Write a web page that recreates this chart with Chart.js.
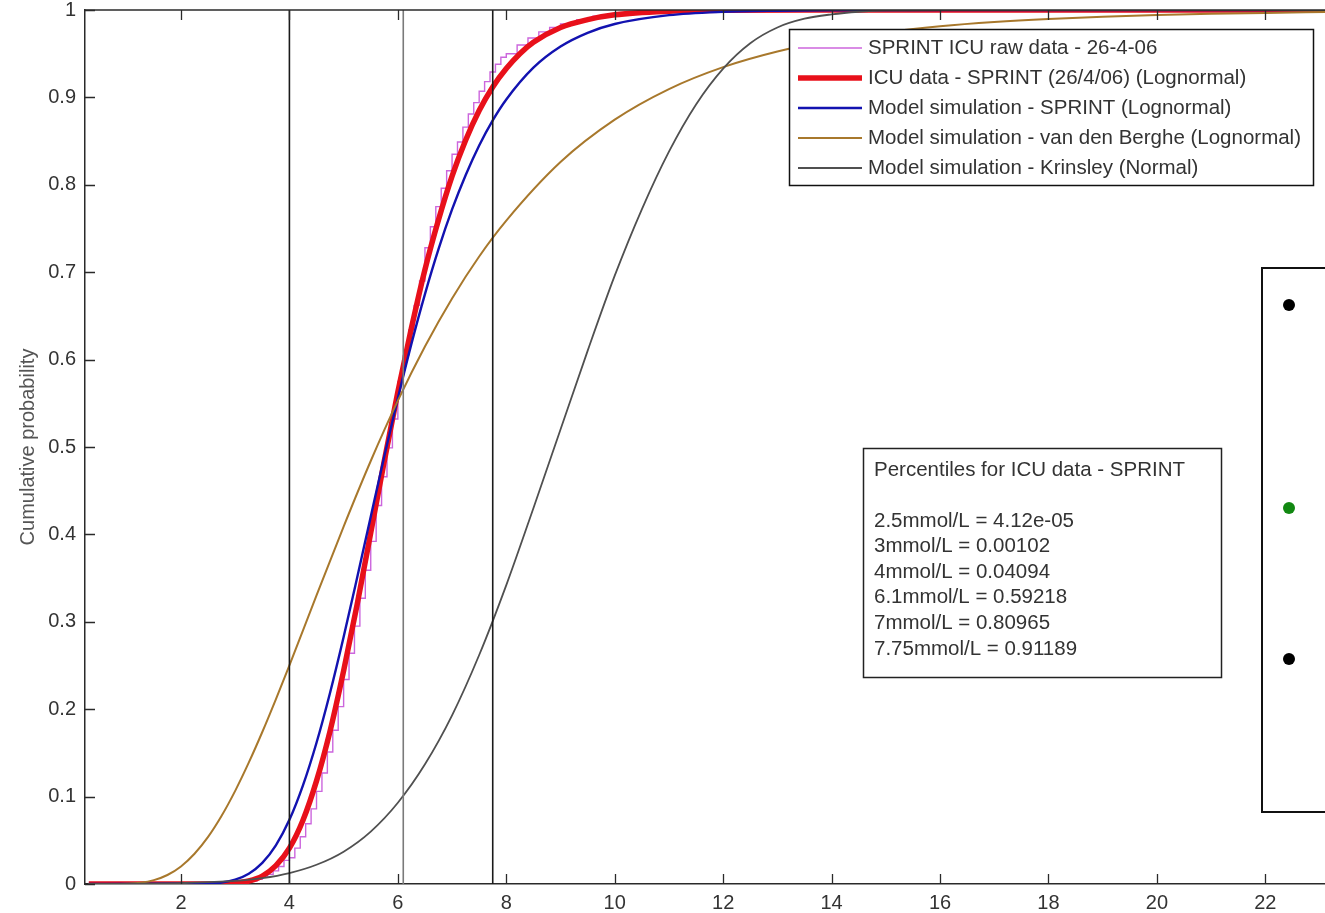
<!DOCTYPE html>
<html>
<head>
<meta charset="utf-8">
<title>Cumulative probability - ICU glucose</title>
<script src="https://cdn.jsdelivr.net/npm/chart.js@4.4.1/dist/chart.umd.min.js"></script>
<style>
  html, body { margin: 0; padding: 0; background: #fff; }
  #wrap { width: 1325px; height: 913px; }
</style>
</head>
<body>
<div id="wrap"><canvas id="cdf" width="1325" height="913"></canvas></div>
<script>
// valeurs (glycemie mmol/L -> probabilite cumulee)
var xTicks = [2, 4, 6, 8, 10, 12, 14, 16, 18, 20, 22];
var yTicks = [0, 0.1, 0.2, 0.3, 0.4, 0.5, 0.6, 0.7, 0.8, 0.9, 1];
var xMin = 0.23, xMax = 23.1;

// lignes verticales (4, 6.1, 7.75 mmol/L)
var refLines = [4, 6.1, 7.75];
var refColors = ['#1a1a1a', '#7a7a7a', '#1a1a1a'];

// SPRINT ICU raw data (escalier)
var rawX = [0.3, 2.9, 3.0, 3.1, 3.2, 3.3, 3.4, 3.5, 3.6, 3.7, 3.8, 3.9, 4.0, 4.1, 4.2, 4.3, 4.4, 4.5, 4.6, 4.7, 4.8, 4.9,
            5.0, 5.1, 5.2, 5.3, 5.4, 5.5, 5.6, 5.7, 5.8, 5.9, 6.0, 6.1, 6.2, 6.3, 6.4, 6.5, 6.6, 6.7, 6.8, 6.9,
            7.0, 7.1, 7.2, 7.3, 7.4, 7.5, 7.6, 7.7, 7.8, 7.9, 8.0, 8.2, 8.4, 8.6, 8.8, 9.0, 9.3, 9.6, 10.0, 10.5, 11.0, 12.0, 23.1];
var rawY = [0, 0, 0.0005, 0.0012, 0.0022, 0.0035, 0.0055, 0.008, 0.011, 0.015, 0.020, 0.027, 0.030, 0.041, 0.054, 0.069, 0.086, 0.106, 0.127, 0.151, 0.176, 0.203,
            0.234, 0.264, 0.295, 0.327, 0.359, 0.392, 0.433, 0.466, 0.499, 0.532, 0.575, 0.605, 0.634, 0.662, 0.690, 0.728, 0.752, 0.775, 0.796, 0.816,
            0.835, 0.849, 0.866, 0.881, 0.894, 0.907, 0.918, 0.929, 0.938, 0.946, 0.950, 0.960, 0.968, 0.975, 0.980, 0.984, 0.989, 0.993, 0.996, 0.998, 0.999, 1, 1];

// ICU data - SPRINT (lognormal)
var icuX = [0.3, 2.5, 2.75, 3, 3.25, 3.5, 3.75, 4, 4.25, 4.5, 4.75, 5, 5.25, 5.5, 5.75, 6, 6.25, 6.5, 6.75, 7, 7.25, 7.5, 7.75, 8, 8.25, 8.5, 9, 9.5, 10, 11, 12, 14, 23.1];
var icuY = [0, 0, 0.0002, 0.001, 0.0034, 0.009, 0.021, 0.041, 0.073, 0.118, 0.175, 0.244, 0.320, 0.402, 0.484, 0.563, 0.636, 0.703, 0.760, 0.810, 0.851, 0.885, 0.912, 0.933, 0.950, 0.963, 0.980, 0.989, 0.9945, 0.9986, 0.9997, 1, 1];

// Model simulation - SPRINT (lognormal)
var sprintX = [0.3, 2.5, 2.75, 3, 3.25, 3.5, 3.75, 4, 4.25, 4.5, 4.75, 5, 5.25, 5.5, 5.75, 6, 6.25, 6.5, 6.75, 7, 7.25, 7.5, 7.75, 8, 8.5, 9, 9.5, 10, 11, 12, 13, 14, 16, 23.1];
var sprintY = [0, 0.0005, 0.0017, 0.005, 0.0118, 0.0242, 0.0443, 0.0734, 0.1128, 0.1616, 0.2189, 0.2827, 0.3507, 0.4203, 0.4894, 0.5558, 0.618, 0.675, 0.7264, 0.7718, 0.811, 0.845, 0.8737, 0.8976, 0.934, 0.9582, 0.9739, 0.984, 0.9941, 0.9979, 0.9992, 0.9997, 1, 1];

// Model simulation - van den Berghe (lognormal)
var bergheX = [0.3, 0.75, 1, 1.25, 1.5, 1.75, 2, 2.25, 2.5, 2.75, 3, 3.25, 3.5, 3.75, 4, 4.5, 5, 5.5, 6, 6.5, 7, 7.5, 8, 9, 10, 11, 12, 13, 14, 15, 16, 17, 18, 19, 20, 21, 22, 23.1];
var bergheY = [0, 0, 0.0003, 0.0014, 0.0044, 0.0103, 0.0201, 0.0346, 0.0539, 0.0781, 0.1066, 0.1388, 0.1739, 0.2113, 0.2502, 0.3303, 0.409, 0.484, 0.553, 0.615, 0.670, 0.718, 0.759, 0.826, 0.8745, 0.9095, 0.9346, 0.9525, 0.9654, 0.9747, 0.9814, 0.9862, 0.9897, 0.9923, 0.9942, 0.9956, 0.9967, 0.9976];

// Model simulation - Krinsley (normal)
var krinsleyX = [0.3, 1, 2, 3, 3.5, 4, 4.5, 5, 5.5, 6, 6.5, 7, 7.5, 8, 8.5, 9, 9.5, 10, 10.5, 11, 11.5, 12, 12.5, 13, 13.5, 14, 14.5, 15, 16, 23.1];
var krinsleyY = [0, 0.0002, 0.001, 0.0035, 0.0067, 0.0125, 0.022, 0.037, 0.060, 0.093, 0.137, 0.193, 0.262, 0.342, 0.43, 0.52, 0.61, 0.696, 0.772, 0.838, 0.892, 0.933, 0.962, 0.980, 0.990, 0.995, 0.998, 0.9995, 1, 1];

var legendLabels = [
    'SPRINT ICU raw data - 26-4-06',
    'ICU data - SPRINT (26/4/06) (Lognormal)',
    'Model simulation - SPRINT (Lognormal)',
    'Model simulation - van den Berghe (Lognormal)',
    'Model simulation - Krinsley (Normal)'
];
var seriesColors = ['#cc66dd', '#e8101a', '#1212b0', '#a8782c', '#505050'];
var seriesWidths = [1.4, 5.5, 2.4, 2, 1.8];

var percentileTitle = 'Percentiles for ICU data - SPRINT';
var percentileLines = [
    '2.5mmol/L = 4.12e-05',
    '3mmol/L = 0.00102',
    '4mmol/L = 0.04094',
    '6.1mmol/L = 0.59218',
    '7mmol/L = 0.80965',
    '7.75mmol/L = 0.91189'
];
var panelDots = ['#000000', '#118811', '#000000'];

var FONT = '"Liberation Sans", Arial, sans-serif';

function toPoints(xs, ys) {
    var pts = [];
    for (var i = 0; i < xs.length; i++) {
        pts.push({x: xs[i], y: ys[i]});
    }
    return pts;
}

var datasets = [];
var curves = [[rawX, rawY], [icuX, icuY], [sprintX, sprintY], [bergheX, bergheY], [krinsleyX, krinsleyY]];
for (var i = 0; i < curves.length; i++) {
    datasets.push({
        label: legendLabels[i],
        data: toPoints(curves[i][0], curves[i][1]),
        borderColor: seriesColors[i],
        borderWidth: seriesWidths[i],
        stepped: i === 0 ? 'before' : false,
        cubicInterpolationMode: 'monotone',
        pointRadius: 0,
        fill: false,
        order: 10 - i
    });
}
for (var j = 0; j < refLines.length; j++) {
    datasets.push({
        label: 'ref' + refLines[j],
        data: [{x: refLines[j], y: 0}, {x: refLines[j], y: 1}],
        borderColor: refColors[j],
        borderWidth: 1.6,
        pointRadius: 0,
        fill: false,
        order: 1
    });
}

// ticks vers l'interieur, cadre, legende et boites de texte
var matlabDecor = {
    id: 'matlabDecor',
    afterDraw: function(chart) {
        var ctx = chart.ctx;
        var a = chart.chartArea;
        var sx = chart.scales.x, sy = chart.scales.y;
        ctx.save();
        ctx.strokeStyle = '#2a2a2a';
        ctx.lineWidth = 1.5;
        ctx.beginPath();
        ctx.moveTo(a.left, a.top);
        ctx.lineTo(a.right, a.top);
        ctx.stroke();
        ctx.lineWidth = 1.3;
        ctx.beginPath();
        xTicks.forEach(function(v) {
            var px = Math.round(sx.getPixelForValue(v)) + 0.5;
            ctx.moveTo(px, a.bottom);
            ctx.lineTo(px, a.bottom - 10);
            ctx.moveTo(px, a.top);
            ctx.lineTo(px, a.top + 10);
        });
        yTicks.forEach(function(v) {
            var py = Math.round(sy.getPixelForValue(v)) + 0.5;
            ctx.moveTo(a.left, py);
            ctx.lineTo(a.left + 10, py);
        });
        ctx.stroke();

        // titre axe y
        ctx.save();
        ctx.translate(28, 447);
        ctx.rotate(-Math.PI / 2);
        ctx.fillStyle = '#555';
        ctx.font = '20px ' + FONT;
        ctx.textAlign = 'center';
        ctx.textBaseline = 'middle';
        ctx.fillText('Cumulative probability', 0, 0);
        ctx.restore();

        // legende
        var lx = 789, ly = 29, lw = 524, lh = 156;
        ctx.fillStyle = '#fff';
        ctx.fillRect(lx, ly, lw, lh);
        ctx.strokeStyle = '#111';
        ctx.lineWidth = 1.5;
        ctx.strokeRect(lx + 0.5, ly + 0.5, lw, lh);
        ctx.font = '20.5px ' + FONT;
        ctx.textBaseline = 'middle';
        ctx.textAlign = 'left';
        for (var k = 0; k < legendLabels.length; k++) {
            var ry = 48 + k * 30;
            ctx.strokeStyle = seriesColors[k];
            ctx.lineWidth = seriesWidths[k];
            ctx.beginPath();
            ctx.moveTo(798, ry);
            ctx.lineTo(862, ry);
            ctx.stroke();
            ctx.fillStyle = '#333';
            ctx.fillText(legendLabels[k], 868, ry);
        }

        // boite percentiles
        var bx = 863, by = 448, bw = 358, bh = 229;
        ctx.fillStyle = '#fff';
        ctx.fillRect(bx, by, bw, bh);
        ctx.strokeStyle = '#222';
        ctx.lineWidth = 1.5;
        ctx.strokeRect(bx + 0.5, by + 0.5, bw, bh);
        ctx.fillStyle = '#333';
        ctx.font = '20.5px ' + FONT;
        ctx.fillText(percentileTitle, 874, 470);
        for (var m = 0; m < percentileLines.length; m++) {
            ctx.fillText(percentileLines[m], 874, 521 + m * 25.6);
        }

        // panneau a droite (coupe)
        ctx.fillStyle = '#fff';
        ctx.fillRect(1262, 268, 80, 544);
        ctx.strokeStyle = '#111';
        ctx.lineWidth = 2;
        ctx.strokeRect(1262, 268, 80, 544);
        var dotY = [305, 508, 659];
        for (var d = 0; d < dotY.length; d++) {
            ctx.fillStyle = panelDots[d];
            ctx.beginPath();
            ctx.arc(1289, dotY[d], 6, 0, Math.PI * 2);
            ctx.fill();
        }
        ctx.restore();
    }
};

var chart = new Chart(document.getElementById('cdf'), {
    type: 'line',
    data: {datasets: datasets},
    options: {
        responsive: false,
        animation: false,
        layout: {padding: {top: 10, right: 0, left: 0, bottom: 0}},
        plugins: {legend: {display: false}, tooltip: {enabled: false}},
        scales: {
            x: {
                type: 'linear',
                min: xMin,
                max: xMax,
                afterFit: function(s) { s.height = 29; s.paddingLeft = 0; s.paddingRight = 0; },
                afterBuildTicks: function(s) { s.ticks = xTicks.map(function(v) { return {value: v}; }); },
                grid: {display: false, drawTicks: false},
                border: {display: true, color: '#2a2a2a', width: 1.5},
                ticks: {
                    padding: 7, color: '#333', autoSkip: false, maxRotation: 0,
                    font: {family: FONT, size: 20},
                    callback: function(v) { return String(v); }
                }
            },
            y: {
                type: 'linear',
                min: 0,
                max: 1,
                afterFit: function(s) { s.width = 85; s.paddingTop = 0; s.paddingBottom = 0; },
                afterBuildTicks: function(s) { s.ticks = yTicks.map(function(v) { return {value: v}; }); },
                grid: {display: false, drawTicks: false},
                border: {display: true, color: '#2a2a2a', width: 1.5},
                ticks: {
                    padding: 9, color: '#333', autoSkip: false,
                    font: {family: FONT, size: 20},
                    callback: function(v) { return String(Math.round(v * 10) / 10); }
                }
            }
        }
    },
    plugins: [matlabDecor]
});
</script>
</body>
</html>
